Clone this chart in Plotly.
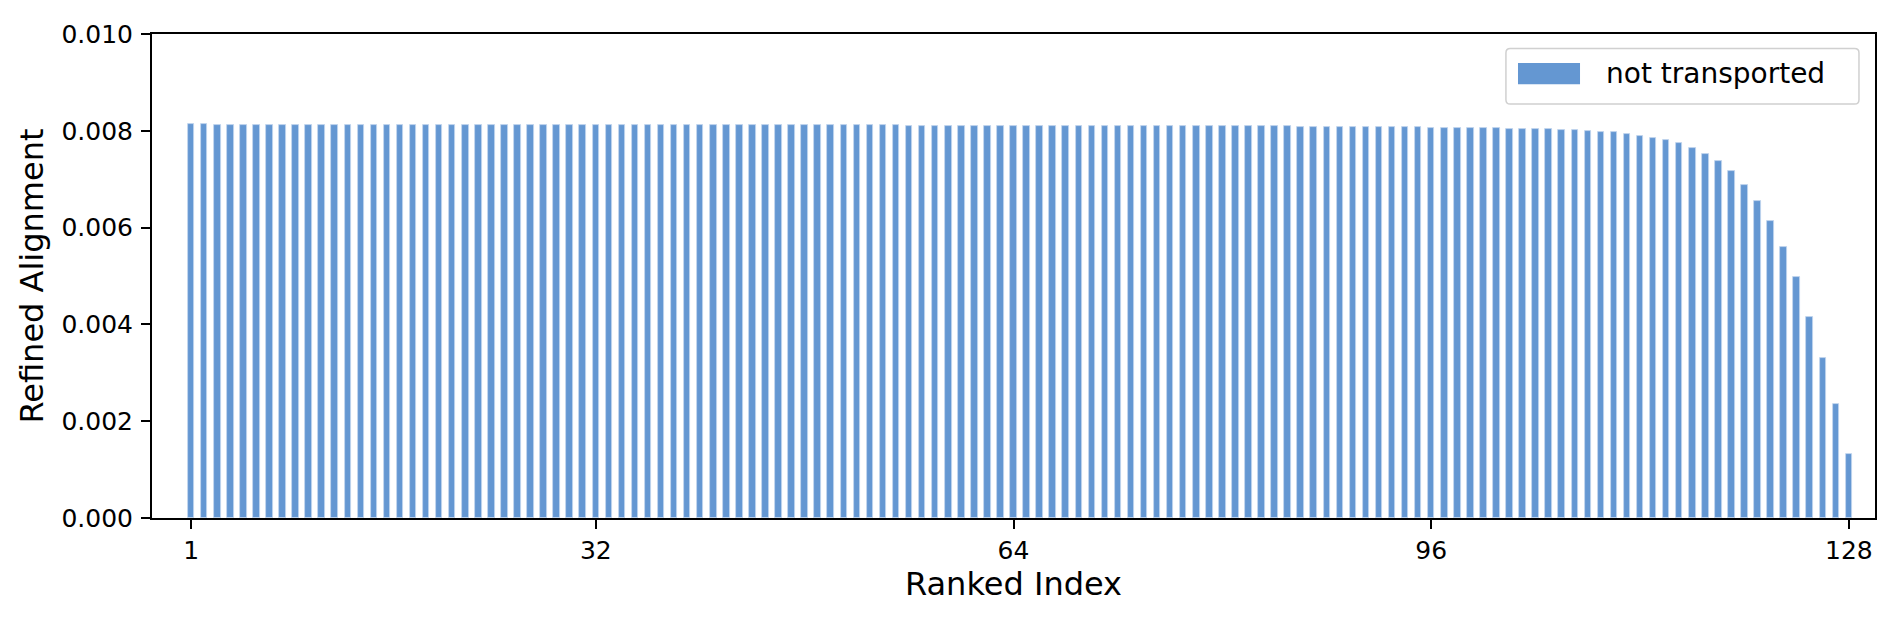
import plotly.graph_objects as go

# Ranked index (x categories)
ranks = list(range(1, 129))

# Refined alignment value per rank
alignment = [
    0.00814, 0.00814, 0.00813, 0.00813, 0.00813, 0.00813, 0.00813, 0.00813, 0.00813, 0.00813,
    0.00813, 0.00813, 0.00813, 0.00813, 0.00813, 0.00812, 0.00812, 0.00812, 0.00812, 0.00812,
    0.00812, 0.00812, 0.00812, 0.00812, 0.00812, 0.00812, 0.00812, 0.00812, 0.00812, 0.00812,
    0.00812, 0.00812, 0.00812, 0.00812, 0.00812, 0.00811, 0.00811, 0.00811, 0.00811, 0.00811,
    0.00811, 0.00811, 0.00811, 0.00811, 0.00811, 0.00811, 0.00811, 0.00811, 0.00811, 0.00811,
    0.00811, 0.00811, 0.00811, 0.00811, 0.00811, 0.00810, 0.00810, 0.00810, 0.00810, 0.00810,
    0.00810, 0.00810, 0.00810, 0.00810, 0.00810, 0.00810, 0.00810, 0.00810, 0.00810, 0.00810,
    0.00810, 0.00810, 0.00809, 0.00809, 0.00809, 0.00809, 0.00809, 0.00809, 0.00809, 0.00809,
    0.00809, 0.00809, 0.00809, 0.00809, 0.00809, 0.00808, 0.00808, 0.00808, 0.00808, 0.00808,
    0.00808, 0.00808, 0.00807, 0.00807, 0.00807, 0.00806, 0.00806, 0.00806, 0.00806, 0.00805,
    0.00805, 0.00804, 0.00804, 0.00803, 0.00803, 0.00802, 0.00801, 0.00800, 0.00798, 0.00797,
    0.00794, 0.00790, 0.00786, 0.00782, 0.00774, 0.00765, 0.00753, 0.00737, 0.00716, 0.00689,
    0.00656, 0.00613, 0.00560, 0.00497, 0.00416, 0.00331, 0.00235, 0.00133,
]

x_tick_vals = [1, 32, 64, 96, 128]
y_tick_vals = [0.0, 0.002, 0.004, 0.006, 0.008, 0.010]
series_name = "not transported"

BAR_COLOR = "#6497d2"
FONT = "DejaVu Sans"

bars = go.Bar(
    x=ranks,
    y=alignment,
    width=0.5,
    name=series_name,
    marker=dict(color=BAR_COLOR, line=dict(color="#c3d6ee", width=0.8)),
    showlegend=False,
)


def rounded_box(x0, y0, x1, y1, rx, ry):
    # rounded rectangle path in paper coords
    return (
        f"M {x0 + rx},{y0} L {x1 - rx},{y0} Q {x1},{y0} {x1},{y0 + ry} "
        f"L {x1},{y1 - ry} Q {x1},{y1} {x1 - rx},{y1} "
        f"L {x0 + rx},{y1} Q {x0},{y1} {x0},{y1 - ry} "
        f"L {x0},{y0 + ry} Q {x0},{y0} {x0 + rx},{y0} Z"
    )


# hand-drawn legend so the swatch matches matplotlib's wide patch
legend_shapes = [
    dict(type="path", xref="paper", yref="paper",
         path=rounded_box(0.7858, 0.8554, 0.9907, 0.9698, 0.0025, 0.009),
         line=dict(color="#d0d0d0", width=1.5), fillcolor="rgba(255,255,255,0.8)"),
    dict(type="rect", xref="paper", yref="paper",
         x0=0.7928, x1=0.8288, y0=0.8962, y1=0.9403,
         line=dict(width=0), fillcolor=BAR_COLOR),
]
legend_text = dict(
    text=series_name, xref="paper", yref="paper", x=0.8425, y=0.9183,
    xanchor="left", yanchor="middle", showarrow=False,
    font=dict(family=FONT, size=28, color="black"),
)

# the page body adds an 8px offset, so margins are shifted to compensate
layout = go.Layout(
    width=1902,
    height=622,
    margin=dict(l=144, r=35, t=20, b=112),
    paper_bgcolor="white",
    plot_bgcolor="white",
    font=dict(family=FONT, color="black"),
    bargap=0,
    xaxis=dict(
        range=[-2, 130],
        tickvals=x_tick_vals,
        ticktext=[str(v) for v in x_tick_vals],
        ticks="outside", ticklen=9, tickwidth=2, tickcolor="black",
        tickfont=dict(size=25),
        showline=True, linecolor="black", linewidth=2, mirror=True,
        showgrid=False, zeroline=False,
        title=dict(text="Ranked Index", font=dict(size=32), standoff=8),
    ),
    yaxis=dict(
        range=[0, 0.010],
        tickvals=y_tick_vals,
        tickformat=".3f",
        ticks="outside", ticklen=9, tickwidth=2, tickcolor="black",
        tickfont=dict(size=25),
        ticklabelstandoff=3,
        showline=True, linecolor="black", linewidth=2, mirror=True,
        showgrid=False, zeroline=False,
        title=dict(text="Refined Alignment", font=dict(size=32), standoff=8),
    ),
    shapes=legend_shapes,
    annotations=[legend_text],
)

fig = go.Figure(data=[bars], layout=layout)
fig.write_html("out.html")
